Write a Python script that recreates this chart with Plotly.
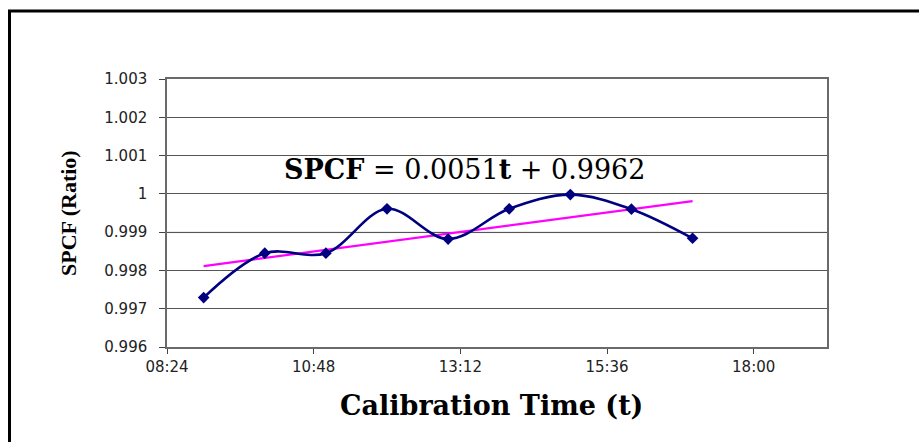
import numpy as np
import plotly.graph_objects as go

# ---- data ----
times = ["09:00", "10:00", "11:00", "12:00", "13:00", "14:00", "15:00", "16:00", "17:00"]
spcf = [0.99729, 0.99845, 0.99845, 0.99961, 0.99882, 0.99961, 0.99998, 0.99960, 0.99884]

x_tick_vals = ["08:24", "10:48", "13:12", "15:36", "18:00"]
x_range = ["08:24", "19:12"]
y_tick_vals = [0.996, 0.997, 0.998, 0.999, 1.0, 1.001, 1.002, 1.003]
y_tick_text = ["0.996", "0.997", "0.998", "0.999", "1", "1.001", "1.002", "1.003"]
equation = "<b>SPCF</b> = 0.0051<b>t</b> + 0.9962"

DAY = "2000-01-01 "
def d(t):
    return DAY + t

x_dates = [d(t) for t in times]

# linear trend (fraction of day)
frac = np.array([int(t[:2]) / 24 + int(t[3:]) / 1440 for t in times])
slope, intercept = np.polyfit(frac, spcf, 1)
trend_x = [x_dates[0], x_dates[-1]]
trend_y = [slope * frac[0] + intercept, slope * frac[-1] + intercept]

fig = go.Figure()
fig.add_trace(go.Scatter(
    x=trend_x, y=trend_y, mode="lines",
    line=dict(color="#ff00ff", width=2.2), showlegend=False, hoverinfo="skip"))
fig.add_trace(go.Scatter(
    x=x_dates, y=spcf, mode="lines+markers",
    line=dict(color="#000080", width=2.6, shape="spline", smoothing=1),
    marker=dict(symbol="diamond", size=9, color="#000080"),
    showlegend=False))

L, R, T, B = 167, 92, 79, 95
W, H = 919, 442
pw, ph = W - L - R, H - T - B

def px(xp):
    return (xp - L) / pw
def py(yp):
    return (H - B - yp) / ph

fig.update_layout(
    width=W, height=H,
    margin=dict(l=L, r=R, t=T, b=B),
    paper_bgcolor="white", plot_bgcolor="white",
    font=dict(family="DejaVu Sans", size=15, color="#222222"),
    xaxis=dict(
        type="date", range=[d(x_range[0]), d(x_range[1])],
        tickvals=[d(t) for t in x_tick_vals], ticktext=x_tick_vals,
        showgrid=False, showline=True, linecolor="#6a6a6a", linewidth=1.5,
        mirror=True, ticks="outside", ticklen=5, tickcolor="#444",
        ticklabelstandoff=0, zeroline=False,
    ),
    yaxis=dict(
        range=[0.996, 1.003], tickvals=y_tick_vals, ticktext=y_tick_text,
        showgrid=True, gridcolor="#555555", gridwidth=1,
        showline=True, linecolor="#6a6a6a", linewidth=1.5, mirror=True,
        ticks="outside", ticklen=6, tickcolor="#444",
        ticklabelstandoff=9, zeroline=False,
    ),
    shapes=[
        # faint 0.999 gridline as in the original
        dict(type="line", xref="paper", yref="y", x0=0, x1=1, y0=0.999, y1=0.999,
             line=dict(color="#e4e4e4", width=2), layer="below"),
        # outer black frame
        dict(type="rect", xref="paper", yref="paper",
             x0=px(9.5), x1=px(1000), y0=py(500), y1=py(11),
             line=dict(color="black", width=3), layer="above"),
    ],
    annotations=[
        dict(text=equation, xref="paper", yref="paper", x=px(464), y=py(169),
             xanchor="center", yanchor="middle", showarrow=False,
             font=dict(family="DejaVu Serif", size=27, color="black")),
        dict(text="<b>Calibration Time (t)</b>", xref="paper", yref="paper",
             x=px(491), y=py(405), xanchor="center", yanchor="middle", showarrow=False,
             font=dict(family="DejaVu Serif", size=27, color="black")),
        dict(text="<b>SPCF (Ratio)</b>", xref="paper", yref="paper",
             x=px(68), y=py(213), xanchor="center", yanchor="middle", showarrow=False,
             textangle=-90,
             font=dict(family="Liberation Serif", size=22, color="black")),
    ],
)

fig.write_html("out.html")
